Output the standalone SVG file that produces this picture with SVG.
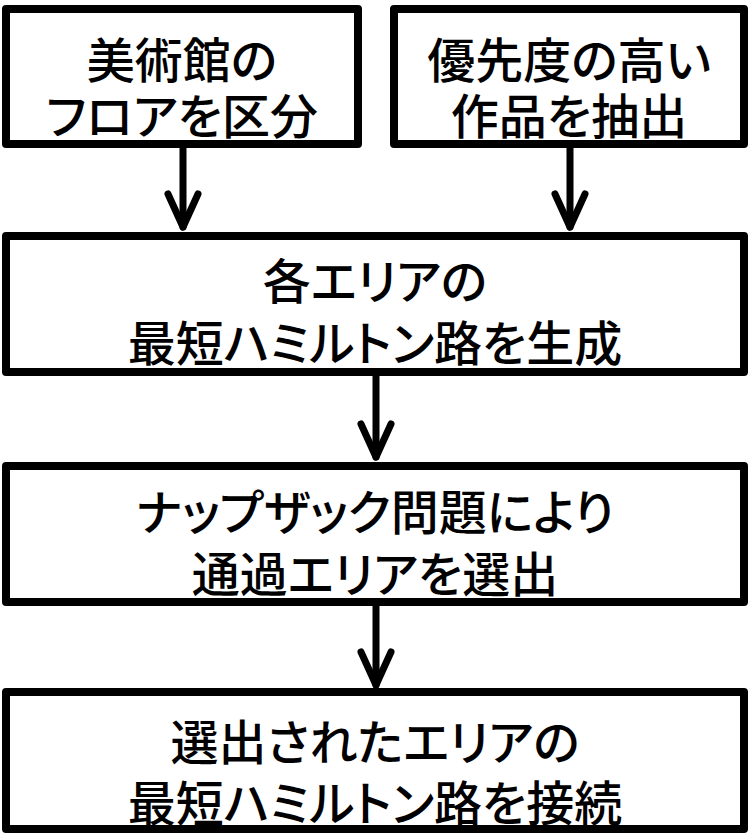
<svg xmlns="http://www.w3.org/2000/svg" width="751" height="836" viewBox="0 0 751 836">
<style>
.box{fill:#fff;stroke:#000;stroke-width:8;stroke-linejoin:round}
.t{font-family:"Noto Sans CJK JP","Noto Sans CJK SC",sans-serif;font-size:48px;font-weight:500;fill:#000;text-anchor:middle;dominant-baseline:central;font-feature-settings:"palt"}
.ln{fill:none;stroke:#000;stroke-width:7;stroke-linecap:round;stroke-linejoin:round}
</style>
<rect width="751" height="836" fill="#fff"/>
<g id="connectors">
<line class="ln" x1="183" y1="148" x2="183" y2="227"/>
<polyline class="ln" points="168,194 183,227 198,194"/>
<line class="ln" x1="570" y1="148" x2="570" y2="227"/>
<polyline class="ln" points="555,194 570,227 585,194"/>
<line class="ln" x1="376" y1="376" x2="376" y2="457"/>
<polyline class="ln" points="361,424 376,457 391,424"/>
<line class="ln" x1="376" y1="606" x2="376" y2="685"/>
<polyline class="ln" points="361,652 376,685 391,652"/>
</g>
<g id="n1">
<rect class="box" x="6" y="9" width="352" height="135"/>
<text class="t" x="182" y="57">美術館の</text>
<text class="t" x="182" y="113">フロアを区分</text>
</g>
<g id="n2">
<rect class="box" x="394" y="9" width="350" height="135"/>
<text class="t" x="569" y="57">優先度の高い</text>
<text class="t" x="569" y="113">作品を抽出</text>
</g>
<g id="n3">
<rect class="box" x="6" y="236" width="738" height="136"/>
<text class="t" x="375" y="278">各エリアの</text>
<text class="t" x="375" y="340">最短ハミルトン路を生成</text>
</g>
<g id="n4">
<rect class="box" x="6" y="466" width="738" height="136"/>
<text class="t" x="375" y="509">ナップザック問題により</text>
<text class="t" x="375" y="571">通過エリアを選出</text>
</g>
<g id="n5">
<rect class="box" x="6" y="692" width="738" height="137"/>
<text class="t" x="375" y="739">選出されたエリアの</text>
<text class="t" x="375" y="800">最短ハミルトン路を接続</text>
</g>
</svg>
